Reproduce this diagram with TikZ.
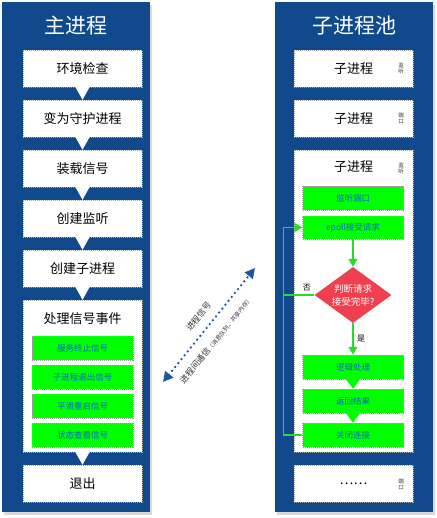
\documentclass[tikz,border=0pt]{standalone}
\usepackage{fontspec}
\setmainfont{Noto Sans CJK SC}
\usepackage{tikz}
\usetikzlibrary{calc,arrows.meta,shapes.geometric}

\definecolor{poolblue}{RGB}{16,73,140}
\definecolor{linkblue}{RGB}{28,86,156}
\definecolor{siggreen}{RGB}{0,255,0}
\definecolor{sigtext}{RGB}{0,102,204}
\definecolor{flowgreen}{RGB}{40,220,40}
\definecolor{judgered}{RGB}{240,64,80}

\begin{document}
\begin{tikzpicture}[x=1pt,y=-1pt]
% Styles
\tikzset{
    panel/.style={fill=poolblue},
    stepbox/.style={draw=gray!70, dash pattern=on 1pt off 1pt, fill=white,
        minimum width=119pt, minimum height=37pt, inner sep=0pt,
        font=\fontsize{13}{15}\selectfont},
    sigbox/.style={draw=gray!70, dash pattern=on 1pt off 1pt, fill=siggreen,
        text=sigtext, minimum width=101pt, minimum height=24pt, inner sep=0pt,
        font=\fontsize{8.5}{10}\selectfont},
    sidetag/.style={align=center, inner sep=0pt, text=gray!40!black,
        font=\fontsize{5.5}{6}\selectfont},
    flow/.style={draw=flowgreen, line width=1.6pt, -{Triangle[length=8pt,width=9pt]}},
    title/.style={text=white, font=\fontsize{21}{24}\selectfont},
    linktext/.style={sloped, text=black!80, font=\fontsize{8.5}{9}\selectfont}
}
\useasboundingbox (0,0) rectangle (436,518);

% Panels
\fill[gray!30] (4,5) rectangle (152,515);
\fill[gray!30] (277,5) rectangle (435,515);
\fill[panel] (2,2) rectangle (150,512);
\fill[panel] (275,2) rectangle (433,512);
\node[title] (mt) at (76,26) {主进程};
\node[title] (pt) at (354,26) {子进程池};

% Main process
\node[stepbox] (ma) at (82.5,68.5) {环境检查};
\node[stepbox] (mb) at (82.5,118.5) {变为守护进程};
\node[stepbox] (mc) at (82.5,168.5) {装载信号};
\node[stepbox] (md) at (82.5,218.5) {创建监听};
\node[stepbox] (me) at (82.5,268.5) {创建子进程};
\node[stepbox, minimum height=152pt] (mf) at (82.5,376) {};
\node[font=\fontsize{13}{15}\selectfont] (mft) at (82.5,319) {处理信号事件};
\node[stepbox] (mg) at (82.5,483.5) {退出};
\node[sigbox] (sa) at (82.5,348) {服务终止信号};
\node[sigbox] (sb) at (82.5,377) {子进程退出信号};
\node[sigbox] (sc) at (82.5,406) {平滑重启信号};
\node[sigbox] (sd) at (82.5,435) {状态查看信号};
\foreach \a/\b in {ma/mb, mb/mc, mc/md, md/me, me/mf, mf/mg}
    \fill[white] ([xshift=-7pt]\a.south) -- ([xshift=7pt]\a.south) -- (\b.north) -- cycle;

% Child pool
\node[stepbox] (pa) at (353.5,68.5) {子进程};
\node[stepbox] (pb) at (353.5,118.5) {子进程};
\node[stepbox, minimum height=302pt] (pc) at (353.5,301) {};
\node[stepbox] (pd) at (353.5,483.5) {……};
\node[font=\fontsize{13}{15}\selectfont] (pct) at (353.5,167) {子进程};
\node[sidetag] (ta) at (401,68) {监\\听};
\node[sidetag] (tb) at (401,118) {端\\口};
\node[sidetag] (tc) at (401,168) {监\\听};
\node[sidetag] (td) at (401,484) {端\\口};

% Worker flow
\node[sigbox] (wa) at (353,198) {监听端口};
\node[sigbox, minimum height=23pt] (wb) at (353,227.5) {epoll接受请求};
\node[diamond, fill=judgered, text=white, aspect=1.4, inner sep=0pt,
    minimum width=77pt, minimum height=56pt, align=center,
    font=\fontsize{9.5}{13}\selectfont] (wj) at (353,295) {判断请求\\接受完毕?};
\node[sigbox] (wc) at (353,367) {逻辑处理};
\node[sigbox] (wd) at (353,401) {返回结果};
\node[sigbox] (we) at (353,435) {关闭连接};
\foreach \a/\b in {wc/wd, wd/we}
    \fill[siggreen] ([xshift=-7pt]\a.south) -- ([xshift=7pt]\a.south) -- (\b.north) -- cycle;
\draw[flow] (wb) -- (wj);
\draw[flow] (wj) -- node[right, font=\fontsize{8}{9}\selectfont] {是} (wc);
\draw[flow] (we.west) -- ++(-19,0) |- (wb.west);
\draw[draw=flowgreen, line width=1.6pt] (wj.west) -- node[above, pos=0.25,
    font=\fontsize{8}{9}\selectfont] {否} ++(-30,0);

% IPC link
\coordinate (la) at (163,382);
\coordinate (lb) at (255,268);
\draw[linkblue, line width=2.6pt, line cap=round, dash pattern=on 0pt off 5pt,
    {Triangle[length=10pt,width=10pt]}-{Triangle[length=10pt,width=10pt]}] (la) --
    node[linktext, above=5pt, pos=0.5] {进程信号}
    node[linktext, below=6pt, pos=0.45]
        {进程间通信{\fontsize{6}{7}\selectfont（消息队列、共享内存）}} (lb);
\end{tikzpicture}
\end{document}
